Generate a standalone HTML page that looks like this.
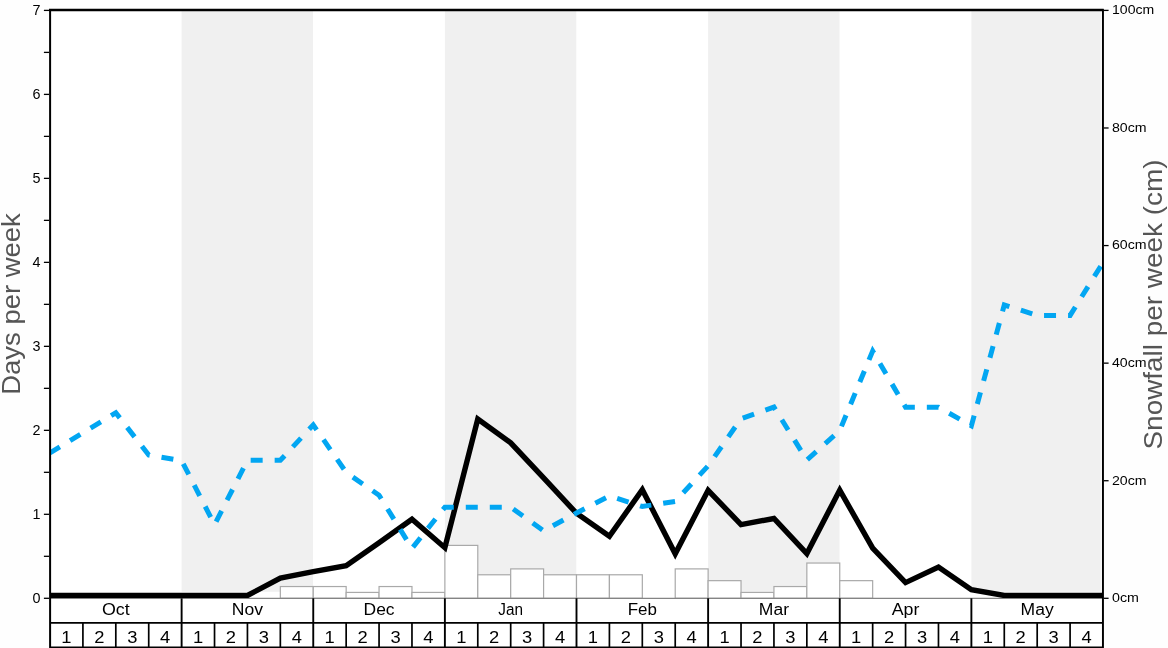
<!DOCTYPE html>
<html lang="en">
<head>
<meta charset="utf-8">
<title>Snowfall chart</title>
<style>
html,body{margin:0;padding:0;background:#fefefe;}
body{width:1168px;height:648px;overflow:hidden;font-family:"Liberation Sans", sans-serif;}
svg{display:block;will-change:transform;}
text{font-family:"Liberation Sans", sans-serif;}
</style>
</head>
<body>
<svg width="1168" height="648" viewBox="0 0 1168 648">
<defs><clipPath id="plot"><rect x="50.0" y="10.4" width="1053.0" height="587.5"/></clipPath></defs>
<rect x="50.0" y="10.4" width="1053.0" height="637.6" fill="#ffffff"/>
<rect x="181.62" y="10.4" width="131.38" height="581.4" fill="#f0f0f0"/>
<rect x="444.88" y="10.4" width="131.38" height="581.4" fill="#f0f0f0"/>
<rect x="708.12" y="10.4" width="131.38" height="581.4" fill="#f0f0f0"/>
<rect x="971.38" y="10.4" width="129.42" height="581.4" fill="#f0f0f0"/>
<rect x="280.34" y="586.54" width="32.91" height="11.76" fill="#ffffff" stroke="#a9a9a9" stroke-width="1.2"/>
<rect x="313.25" y="586.54" width="32.91" height="11.76" fill="#ffffff" stroke="#a9a9a9" stroke-width="1.2"/>
<rect x="346.16" y="592.42" width="32.91" height="5.88" fill="#ffffff" stroke="#a9a9a9" stroke-width="1.2"/>
<rect x="379.06" y="586.54" width="32.91" height="11.76" fill="#ffffff" stroke="#a9a9a9" stroke-width="1.2"/>
<rect x="411.97" y="592.42" width="32.91" height="5.88" fill="#ffffff" stroke="#a9a9a9" stroke-width="1.2"/>
<rect x="444.88" y="545.39" width="32.91" height="52.91" fill="#ffffff" stroke="#a9a9a9" stroke-width="1.2"/>
<rect x="477.78" y="574.78" width="32.91" height="23.52" fill="#ffffff" stroke="#a9a9a9" stroke-width="1.2"/>
<rect x="510.69" y="568.90" width="32.91" height="29.39" fill="#ffffff" stroke="#a9a9a9" stroke-width="1.2"/>
<rect x="543.59" y="574.78" width="32.91" height="23.52" fill="#ffffff" stroke="#a9a9a9" stroke-width="1.2"/>
<rect x="576.50" y="574.78" width="32.91" height="23.52" fill="#ffffff" stroke="#a9a9a9" stroke-width="1.2"/>
<rect x="609.41" y="574.78" width="32.91" height="23.52" fill="#ffffff" stroke="#a9a9a9" stroke-width="1.2"/>
<rect x="675.22" y="568.90" width="32.91" height="29.39" fill="#ffffff" stroke="#a9a9a9" stroke-width="1.2"/>
<rect x="708.12" y="580.66" width="32.91" height="17.64" fill="#ffffff" stroke="#a9a9a9" stroke-width="1.2"/>
<rect x="741.03" y="592.42" width="32.91" height="5.88" fill="#ffffff" stroke="#a9a9a9" stroke-width="1.2"/>
<rect x="773.94" y="586.54" width="32.91" height="11.76" fill="#ffffff" stroke="#a9a9a9" stroke-width="1.2"/>
<rect x="806.84" y="563.03" width="32.91" height="35.27" fill="#ffffff" stroke="#a9a9a9" stroke-width="1.2"/>
<rect x="839.75" y="580.66" width="32.91" height="17.64" fill="#ffffff" stroke="#a9a9a9" stroke-width="1.2"/>
<line x1="50.0" y1="598.3" x2="1103.0" y2="598.3" stroke="#848484" stroke-width="1.3"/>
<g clip-path="url(#plot)">
<polyline points="50.00,595.50 82.91,595.50 115.81,595.50 148.72,595.50 181.62,595.50 214.53,595.50 247.44,595.50 280.34,578.00 313.25,571.60 346.16,565.60 379.06,542.80 411.97,519.20 444.88,547.70 477.78,419.00 510.69,442.80 543.59,477.90 576.50,513.30 609.41,536.20 642.31,489.70 675.22,553.80 708.12,490.30 741.03,524.60 773.94,518.50 806.84,553.60 839.75,490.10 872.66,548.20 905.56,582.60 938.47,567.00 971.38,589.70 1004.28,595.50 1037.19,595.50 1070.09,595.50 1103.00,595.50" fill="none" stroke="#000" stroke-width="5.4" stroke-linejoin="miter" stroke-miterlimit="10"/>
<path d="M50.00 452.80 L59.83 446.83 M70.08 440.59 L80.34 434.36 M90.59 428.13 L100.85 421.90 M111.10 415.66 L115.81 412.80 L119.80 417.91 M127.18 427.38 L134.56 436.84 M141.94 446.30 L148.72 455.00 L149.68 455.16 M161.51 457.18 L173.34 459.19 M183.27 463.80 L188.75 474.47 M194.23 485.15 L199.71 495.82 M205.19 506.50 L210.67 517.17 M216.14 521.55 L221.60 510.86 M227.06 500.18 L232.52 489.49 M237.98 478.80 L243.44 468.12 M250.66 460.30 L262.66 460.30 M274.66 460.30 L280.34 460.30 L284.64 455.68 M292.81 446.89 L300.98 438.10 M309.15 429.31 L313.25 424.90 L316.66 429.82 M323.49 439.68 L330.32 449.55 M337.16 459.41 L343.99 469.27 M352.88 477.08 L362.73 483.94 M372.58 490.79 L379.06 495.30 L381.23 498.79 M387.55 508.99 L393.87 519.19 M400.19 529.39 L406.51 539.59 M412.99 547.12 L420.48 537.74 M427.97 528.37 L435.46 518.99 M442.95 509.62 L444.88 507.20 L453.78 507.20 M465.78 507.20 L477.78 507.20 L477.78 507.20 M489.78 507.20 L501.78 507.20 M513.20 509.00 L522.95 516.00 M532.71 522.99 L542.46 529.99 M552.92 525.76 L563.47 520.05 M574.03 514.34 L576.50 513.00 L584.66 508.78 M595.33 503.27 L605.99 497.77 M617.17 498.48 L628.60 502.13 M640.04 505.77 L642.31 506.50 L651.32 505.13 M663.18 503.33 L675.05 501.53 M683.23 492.80 L691.37 483.98 M699.50 475.16 L707.63 466.33 M714.58 456.56 L721.45 446.72 M728.33 436.88 L735.20 427.05 M742.75 418.10 L754.06 414.11 M765.38 410.12 L773.94 407.10 L775.48 409.59 M781.82 419.78 L788.16 429.96 M794.50 440.15 L800.84 450.34 M807.31 459.58 L816.25 451.57 M825.18 443.56 L834.12 435.55 M841.45 426.40 L846.04 415.31 M850.62 404.23 L855.21 393.14 M859.80 382.05 L864.39 370.96 M868.98 359.88 L872.66 351.00 L873.87 353.07 M879.93 363.42 L885.99 373.78 M892.06 384.13 L898.12 394.49 M904.18 404.84 L905.56 407.20 L914.83 407.20 M926.83 407.20 L938.47 407.20 L938.78 407.38 M949.23 413.28 L959.68 419.19 M970.12 425.09 L971.38 425.80 L974.15 415.61 M977.31 404.03 L980.46 392.45 M983.61 380.87 L986.77 369.30 M989.92 357.72 L993.07 346.14 M996.23 334.56 L999.38 322.98 M1002.54 311.41 L1004.28 305.00 L1009.39 306.62 M1020.84 310.23 L1032.28 313.85 M1044.04 315.40 L1056.04 315.40 M1068.04 315.40 L1070.09 315.40 L1075.35 306.96 M1081.68 296.77 L1088.02 286.58 M1094.36 276.39 L1100.70 266.20" fill="none" stroke="#02a6f2" stroke-width="5" stroke-linejoin="miter" stroke-miterlimit="10"/>
</g>
<g stroke="#000" stroke-width="1.7" fill="none">
<line x1="50.0" y1="622.9" x2="1103.0" y2="622.9"/>
<line x1="50.0" y1="647.3" x2="1103.0" y2="647.3"/>
<line x1="82.91" y1="622.9" x2="82.91" y2="648"/>
<line x1="115.81" y1="622.9" x2="115.81" y2="648"/>
<line x1="148.72" y1="622.9" x2="148.72" y2="648"/>
<line x1="181.62" y1="598.3" x2="181.62" y2="648" stroke-width="1.9"/>
<line x1="214.53" y1="622.9" x2="214.53" y2="648"/>
<line x1="247.44" y1="622.9" x2="247.44" y2="648"/>
<line x1="280.34" y1="622.9" x2="280.34" y2="648"/>
<line x1="313.25" y1="598.3" x2="313.25" y2="648" stroke-width="1.9"/>
<line x1="346.16" y1="622.9" x2="346.16" y2="648"/>
<line x1="379.06" y1="622.9" x2="379.06" y2="648"/>
<line x1="411.97" y1="622.9" x2="411.97" y2="648"/>
<line x1="444.88" y1="598.3" x2="444.88" y2="648" stroke-width="1.9"/>
<line x1="477.78" y1="622.9" x2="477.78" y2="648"/>
<line x1="510.69" y1="622.9" x2="510.69" y2="648"/>
<line x1="543.59" y1="622.9" x2="543.59" y2="648"/>
<line x1="576.50" y1="598.3" x2="576.50" y2="648" stroke-width="1.9"/>
<line x1="609.41" y1="622.9" x2="609.41" y2="648"/>
<line x1="642.31" y1="622.9" x2="642.31" y2="648"/>
<line x1="675.22" y1="622.9" x2="675.22" y2="648"/>
<line x1="708.12" y1="598.3" x2="708.12" y2="648" stroke-width="1.9"/>
<line x1="741.03" y1="622.9" x2="741.03" y2="648"/>
<line x1="773.94" y1="622.9" x2="773.94" y2="648"/>
<line x1="806.84" y1="622.9" x2="806.84" y2="648"/>
<line x1="839.75" y1="598.3" x2="839.75" y2="648" stroke-width="1.9"/>
<line x1="872.66" y1="622.9" x2="872.66" y2="648"/>
<line x1="905.56" y1="622.9" x2="905.56" y2="648"/>
<line x1="938.47" y1="622.9" x2="938.47" y2="648"/>
<line x1="971.38" y1="598.3" x2="971.38" y2="648" stroke-width="1.9"/>
<line x1="1004.28" y1="622.9" x2="1004.28" y2="648"/>
<line x1="1037.19" y1="622.9" x2="1037.19" y2="648"/>
<line x1="1070.09" y1="622.9" x2="1070.09" y2="648"/>
</g>
<g stroke="#000" stroke-width="2.1" fill="none">
<line x1="50.10" y1="9.3" x2="50.10" y2="648" stroke-width="2"/>
<line x1="1102.95" y1="9.3" x2="1102.95" y2="648" stroke-width="1.95"/>
<line x1="49.0" y1="10.0" x2="1103.7" y2="10.0" stroke-width="2.3"/>
</g>
<g stroke="#000" stroke-width="1.3" fill="none">
<line x1="43.9" y1="598.30" x2="49" y2="598.30"/>
<line x1="43.9" y1="556.31" x2="49" y2="556.31"/>
<line x1="43.9" y1="514.31" x2="49" y2="514.31"/>
<line x1="43.9" y1="472.32" x2="49" y2="472.32"/>
<line x1="43.9" y1="430.33" x2="49" y2="430.33"/>
<line x1="43.9" y1="388.34" x2="49" y2="388.34"/>
<line x1="43.9" y1="346.34" x2="49" y2="346.34"/>
<line x1="43.9" y1="304.35" x2="49" y2="304.35"/>
<line x1="43.9" y1="262.36" x2="49" y2="262.36"/>
<line x1="43.9" y1="220.36" x2="49" y2="220.36"/>
<line x1="43.9" y1="178.37" x2="49" y2="178.37"/>
<line x1="43.9" y1="136.38" x2="49" y2="136.38"/>
<line x1="43.9" y1="94.39" x2="49" y2="94.39"/>
<line x1="43.9" y1="52.39" x2="49" y2="52.39"/>
<line x1="43.9" y1="10.40" x2="49" y2="10.40"/>
<line x1="1104" y1="598.30" x2="1108.6" y2="598.30"/>
<line x1="1104" y1="480.72" x2="1108.6" y2="480.72"/>
<line x1="1104" y1="363.14" x2="1108.6" y2="363.14"/>
<line x1="1104" y1="245.56" x2="1108.6" y2="245.56"/>
<line x1="1104" y1="127.98" x2="1108.6" y2="127.98"/>
<line x1="1104" y1="10.40" x2="1108.6" y2="10.40"/>
</g>
<g font-size="13.9" fill="#000" text-anchor="end">
<text x="40.6" y="603.00" textLength="8.0" lengthAdjust="spacingAndGlyphs">0</text>
<text x="40.6" y="519.01" textLength="8.0" lengthAdjust="spacingAndGlyphs">1</text>
<text x="40.6" y="435.03" textLength="8.0" lengthAdjust="spacingAndGlyphs">2</text>
<text x="40.6" y="351.04" textLength="8.0" lengthAdjust="spacingAndGlyphs">3</text>
<text x="40.6" y="267.06" textLength="8.0" lengthAdjust="spacingAndGlyphs">4</text>
<text x="40.6" y="183.07" textLength="8.0" lengthAdjust="spacingAndGlyphs">5</text>
<text x="40.6" y="99.09" textLength="8.0" lengthAdjust="spacingAndGlyphs">6</text>
<text x="40.6" y="15.10" textLength="8.0" lengthAdjust="spacingAndGlyphs">7</text>
</g>
<g font-size="12" fill="#000" text-anchor="start">
<text x="1112" y="602.10" textLength="26.9" lengthAdjust="spacingAndGlyphs">0cm</text>
<text x="1112" y="484.52" textLength="34.6" lengthAdjust="spacingAndGlyphs">20cm</text>
<text x="1112" y="366.94" textLength="34.6" lengthAdjust="spacingAndGlyphs">40cm</text>
<text x="1112" y="249.36" textLength="34.6" lengthAdjust="spacingAndGlyphs">60cm</text>
<text x="1112" y="131.78" textLength="34.6" lengthAdjust="spacingAndGlyphs">80cm</text>
<text x="1112" y="14.20" textLength="42.2" lengthAdjust="spacingAndGlyphs">100cm</text>
</g>
<g font-size="16" fill="#000" text-anchor="middle">
<text x="115.81" y="615.3" textLength="27.7" lengthAdjust="spacingAndGlyphs">Oct</text>
<text x="247.44" y="615.3" textLength="31.2" lengthAdjust="spacingAndGlyphs">Nov</text>
<text x="379.06" y="615.3" textLength="31.0" lengthAdjust="spacingAndGlyphs">Dec</text>
<text x="510.69" y="615.3" textLength="24.7" lengthAdjust="spacingAndGlyphs">Jan</text>
<text x="642.31" y="615.3" textLength="29.2" lengthAdjust="spacingAndGlyphs">Feb</text>
<text x="773.94" y="615.3" textLength="30.2" lengthAdjust="spacingAndGlyphs">Mar</text>
<text x="905.56" y="615.3" textLength="27.7" lengthAdjust="spacingAndGlyphs">Apr</text>
<text x="1037.19" y="615.3" textLength="33.1" lengthAdjust="spacingAndGlyphs">May</text>
<text x="66.45" y="642.7" textLength="10.2" lengthAdjust="spacingAndGlyphs">1</text>
<text x="99.36" y="642.7" textLength="10.2" lengthAdjust="spacingAndGlyphs">2</text>
<text x="132.27" y="642.7" textLength="10.2" lengthAdjust="spacingAndGlyphs">3</text>
<text x="165.17" y="642.7" textLength="10.2" lengthAdjust="spacingAndGlyphs">4</text>
<text x="198.08" y="642.7" textLength="10.2" lengthAdjust="spacingAndGlyphs">1</text>
<text x="230.98" y="642.7" textLength="10.2" lengthAdjust="spacingAndGlyphs">2</text>
<text x="263.89" y="642.7" textLength="10.2" lengthAdjust="spacingAndGlyphs">3</text>
<text x="296.80" y="642.7" textLength="10.2" lengthAdjust="spacingAndGlyphs">4</text>
<text x="329.70" y="642.7" textLength="10.2" lengthAdjust="spacingAndGlyphs">1</text>
<text x="362.61" y="642.7" textLength="10.2" lengthAdjust="spacingAndGlyphs">2</text>
<text x="395.52" y="642.7" textLength="10.2" lengthAdjust="spacingAndGlyphs">3</text>
<text x="428.42" y="642.7" textLength="10.2" lengthAdjust="spacingAndGlyphs">4</text>
<text x="461.33" y="642.7" textLength="10.2" lengthAdjust="spacingAndGlyphs">1</text>
<text x="494.23" y="642.7" textLength="10.2" lengthAdjust="spacingAndGlyphs">2</text>
<text x="527.14" y="642.7" textLength="10.2" lengthAdjust="spacingAndGlyphs">3</text>
<text x="560.05" y="642.7" textLength="10.2" lengthAdjust="spacingAndGlyphs">4</text>
<text x="592.95" y="642.7" textLength="10.2" lengthAdjust="spacingAndGlyphs">1</text>
<text x="625.86" y="642.7" textLength="10.2" lengthAdjust="spacingAndGlyphs">2</text>
<text x="658.77" y="642.7" textLength="10.2" lengthAdjust="spacingAndGlyphs">3</text>
<text x="691.67" y="642.7" textLength="10.2" lengthAdjust="spacingAndGlyphs">4</text>
<text x="724.58" y="642.7" textLength="10.2" lengthAdjust="spacingAndGlyphs">1</text>
<text x="757.48" y="642.7" textLength="10.2" lengthAdjust="spacingAndGlyphs">2</text>
<text x="790.39" y="642.7" textLength="10.2" lengthAdjust="spacingAndGlyphs">3</text>
<text x="823.30" y="642.7" textLength="10.2" lengthAdjust="spacingAndGlyphs">4</text>
<text x="856.20" y="642.7" textLength="10.2" lengthAdjust="spacingAndGlyphs">1</text>
<text x="889.11" y="642.7" textLength="10.2" lengthAdjust="spacingAndGlyphs">2</text>
<text x="922.02" y="642.7" textLength="10.2" lengthAdjust="spacingAndGlyphs">3</text>
<text x="954.92" y="642.7" textLength="10.2" lengthAdjust="spacingAndGlyphs">4</text>
<text x="987.83" y="642.7" textLength="10.2" lengthAdjust="spacingAndGlyphs">1</text>
<text x="1020.73" y="642.7" textLength="10.2" lengthAdjust="spacingAndGlyphs">2</text>
<text x="1053.64" y="642.7" textLength="10.2" lengthAdjust="spacingAndGlyphs">3</text>
<text x="1086.55" y="642.7" textLength="10.2" lengthAdjust="spacingAndGlyphs">4</text>
</g>
<g font-size="25.2" fill="#555555" text-anchor="middle">
<text transform="translate(20,304) rotate(-90)" textLength="181.5" lengthAdjust="spacingAndGlyphs">Days per week</text>
<text transform="translate(1162,304.5) rotate(-90)" textLength="290" lengthAdjust="spacingAndGlyphs">Snowfall per week (cm)</text>
</g>
</svg>
</body>
</html>
